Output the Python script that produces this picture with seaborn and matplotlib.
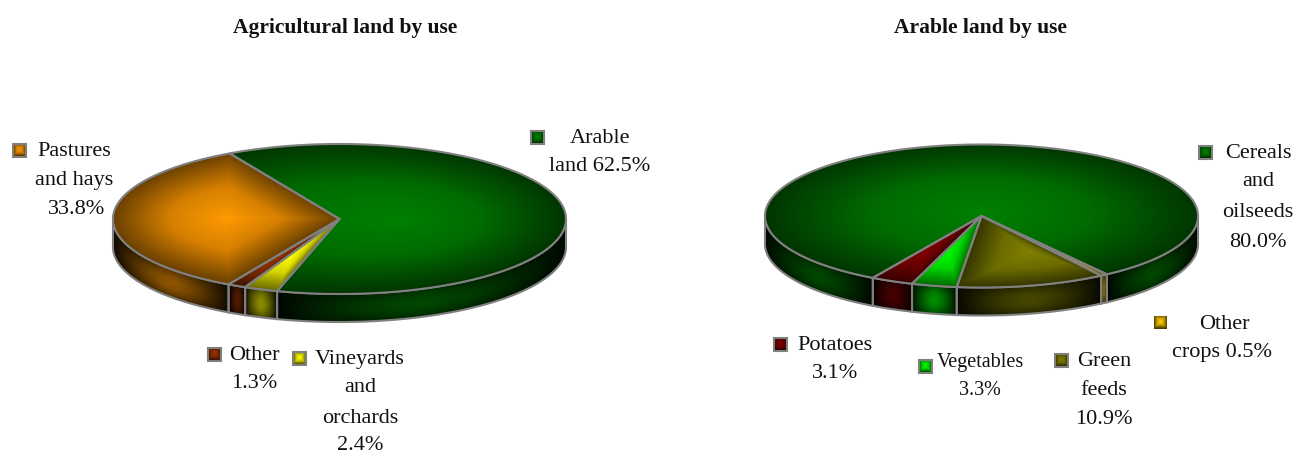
"""Two 3D-look pie charts of land use, drawn with path-gradient shaded wedges."""

import numpy as np
import seaborn as sns
import matplotlib.pyplot as plt
from matplotlib.colors import to_rgb
from matplotlib.patches import Polygon

# Agricultural land
agri_names = ["Arable land", "Pastures and hays", "Other", "Vineyards and orchards"]
agri_values = [62.5, 33.8, 1.3, 2.4]
agri_title = "Agricultural land by use"
agri_lines = [
    ["Arable", "land {}"],
    ["Pastures", "and hays", "{}"],
    ["Other", "{}"],
    ["Vineyards", "and", "orchards", "{}"],
]

# Arable land
arable_names = ["Cereals and oilseeds", "Potatoes", "Vegetables", "Green feeds", "Other crops"]
arable_values = [80.0, 3.1, 3.3, 10.9, 0.5]
arable_title = "Arable land by use"
arable_lines = [
    ["Cereals", "and", "oilseeds", "{}"],
    ["Potatoes", "{}"],
    ["Vegetables", "{}"],
    ["Green", "feeds", "{}"],
    ["Other", "crops {}"],
]

agri_colors = ["#008000", "#ff9900", "#993300", "#ffff00"]
arable_colors = ["#008000", "#800000", "#00ff00", "#808000", "#ffcc00"]

GRAY = "#808080"
TEXT = "#111111"
FONT = "Liberation Serif"

# label layout: key centre, then (x centre, baseline y) of every text line
agri_layout = [
    ((537, 137), [(600, 143), (600, 171)]),
    ((19, 150), [(74, 156), (74, 185), (77, 214)]),
    ((214, 354), [(254, 360), (254, 388)]),
    ((299, 358), [(360, 364), (360, 392), (360, 423), (360, 450)]),
]
arable_layout = [
    ((1205, 152), [(1258, 158), (1258, 186), (1258, 217), (1258, 247)]),
    ((780, 344), [(835, 350), (835, 378)]),
    ((925, 366), [(980, 367), (980, 395)]),
    ((1061, 360), [(1104, 366), (1104, 395), (1104, 424)]),
    ((1160, 322), [(1224, 329), (1222, 357)]),
]
agri_sizes = [16, 16, 16, 16]
arable_sizes = [16, 16, 14.5, 16, 16]
arable_frames = [True, True, True, True, False]

sns.set_theme(style="white")
plt.rcParams["font.family"] = [FONT, "DejaVu Serif"]


def scaled(color, k):
    return tuple(c * k for c in to_rgb(color))


def convex_hull(pts):
    pts = sorted(set(map(tuple, np.round(pts, 3))))

    def half(seq):
        out = []
        for p in seq:
            while len(out) > 1:
                ax_, ay_ = out[-2]
                bx_, by_ = out[-1]
                if (bx_ - ax_) * (p[1] - ay_) - (by_ - ay_) * (p[0] - ax_) > 0:
                    break
                out.pop()
            out.append(p)
        return out[:-1]

    return np.array(half(pts) + half(pts[::-1]))


def fan_fill(ax, pts, centre, dark, bright, zorder, envelope=None):
    """Path gradient: bright in the centre, dark along the outer envelope."""
    pts = np.asarray(pts, float)
    outer = pts if envelope is None else envelope
    hull = convex_hull(np.vstack([outer, centre]))

    x0, y0 = np.floor(pts.min(axis=0)) - 1
    x1, y1 = np.ceil(pts.max(axis=0)) + 1
    X, Y = np.meshgrid(np.arange(x0, x1 + 1), np.arange(y0, y1 + 1))

    # how far along the ray from the centre to the hull each pixel lies
    frac = np.zeros_like(X)
    for p, q in zip(hull, np.roll(hull, -1, axis=0)):
        nx, ny = q[1] - p[1], p[0] - q[0]
        d = (p[0] - centre[0]) * nx + (p[1] - centre[1]) * ny
        if abs(d) > 1e-6:
            frac = np.maximum(frac, ((X - centre[0]) * nx + (Y - centre[1]) * ny) / d)

    mid = tuple((np.array(to_rgb(dark)) + 2.5 * np.array(to_rgb(bright))) / 3.5)
    cmap = sns.blend_palette([dark, mid, bright], n_colors=128, as_cmap=True)
    im = ax.imshow(1 - np.clip(frac, 0, 1), extent=(x0 - 0.5, x1 + 0.5, y1 + 0.5, y0 - 0.5),
                   origin="upper", aspect="auto", cmap=cmap, vmin=0, vmax=1, zorder=zorder)
    im.set_clip_path(Polygon(pts, transform=ax.transData))


def side_band(ax, a, b, cx, cy, rx, ry, depth, color, zorder):
    """Outer wall of the pie between angles a and b (degrees)."""
    t = np.radians(np.linspace(a, b, 80))
    x = cx + rx * np.cos(t)
    y = cy - ry * np.sin(t)
    order = np.argsort(x)
    xmin, xmax = x.min(), x.max()

    # horizontal falloff towards both ends, a little towards top and bottom
    gx = np.linspace(xmin, xmax, max(int(xmax - xmin), 2))
    gy = np.arange(int(y.min()) - 1, int(y.max() + depth) + 2)
    X, Y = np.meshgrid(gx, gy)
    rim = np.interp(X, x[order], y[order])
    v = np.clip((Y - rim) / depth, 0, 1)
    u = (X - xmin) / max(xmax - xmin, 1e-6)
    field = (1 - np.abs(2 * u - 1) ** 1.5) * (1 - 0.5 * np.abs(2 * v - 1) ** 2)

    cmap = sns.blend_palette([scaled(color, 0.06), scaled(color, 0.55)], n_colors=64, as_cmap=True)
    im = ax.imshow(field, extent=(xmin, xmax, gy[-1], gy[0]), origin="upper", aspect="auto",
                   cmap=cmap, vmin=0, vmax=1, zorder=zorder)
    outline = np.c_[np.r_[x, x[::-1]], np.r_[y, (y + depth)[::-1]]]
    im.set_clip_path(Polygon(outline, transform=ax.transData))
    ax.add_patch(Polygon(outline, closed=True, fill=False, ec=GRAY, lw=1.5, zorder=zorder + 0.5))


def draw_pie(ax, values, colors, start, cx, cy, rx, ry, depth):
    total = sum(values)
    angles = start + np.r_[0, np.cumsum(values)] / total * 360
    spans = list(zip(angles[:-1], angles[1:]))

    # walls, only the front half can be seen
    for (a, b), color in zip(spans, colors):
        for k in (-1, 0, 1):
            lo, hi = max(a, 180 + 360 * k), min(b, 360 + 360 * k)
            if hi > lo:
                side_band(ax, lo, hi, cx, cy, rx, ry, depth, color, 2)

    # top face
    circle = np.radians(np.linspace(0, 360, 241))[:-1]
    ellipse = np.c_[cx + rx * np.cos(circle), cy - ry * np.sin(circle)]
    faces = []
    for a, b in spans:
        t = np.radians(np.linspace(a, b, max(int(b - a) * 2, 4)))
        rim = np.c_[cx + rx * np.cos(t), cy - ry * np.sin(t)]
        faces.append(np.vstack([[cx, cy], rim]))
    for (a, b), pts, color in zip(spans, faces, colors):
        mid = (pts.min(axis=0) + pts.max(axis=0)) / 2
        envelope = ellipse if b - a > 180 else None
        fan_fill(ax, pts, mid, scaled(color, 0.42), color, 3, envelope)
    for pts in faces:
        ax.add_patch(Polygon(pts, closed=True, fill=False, ec=GRAY, lw=1.5, zorder=4))


def draw_labels(ax, values, colors, lines, layout, sizes, frames=None):
    frames = frames or [True] * len(values)
    for value, color, text_lines, (key, places), size, frame in zip(values, colors, lines, layout, sizes, frames):
        s = 6.5
        box = [(key[0] - s, key[1] - s), (key[0] + s, key[1] - s), (key[0] + s, key[1] + s), (key[0] - s, key[1] + s)]
        fan_fill(ax, box, key, scaled(color, 0.3), color, 3)
        if frame:
            ax.add_patch(Polygon(box, closed=True, fill=False, ec=GRAY, lw=1.5, zorder=4))
        for line, (x, y) in zip(text_lines, places):
            ax.text(x, y, line.format(f"{value:.1f}%"), ha="center", va="baseline", fontsize=size, color=TEXT)


fig = plt.figure(figsize=(13.09, 4.53), dpi=100)
ax = fig.add_axes([0, 0, 1, 1])

draw_pie(ax, agri_values, agri_colors, -106.0, 339.5, 219, 226.5, 75, 28)
draw_pie(ax, arable_values, arable_colors, -54.6, 981.5, 216, 216.5, 71.5, 28)

draw_labels(ax, agri_values, agri_colors, agri_lines, agri_layout, agri_sizes)
draw_labels(ax, arable_values, arable_colors, arable_lines, arable_layout, arable_sizes, arable_frames)

ax.text(345, 33, agri_title, ha="center", va="baseline", fontsize=15.5, fontweight="bold", color=TEXT)
ax.text(980, 33, arable_title, ha="center", va="baseline", fontsize=15.5, fontweight="bold", color=TEXT)

ax.set_xlim(0, 1309)
ax.set_ylim(453, 0)
ax.axis("off")

fig.savefig("out.png", dpi=100)
